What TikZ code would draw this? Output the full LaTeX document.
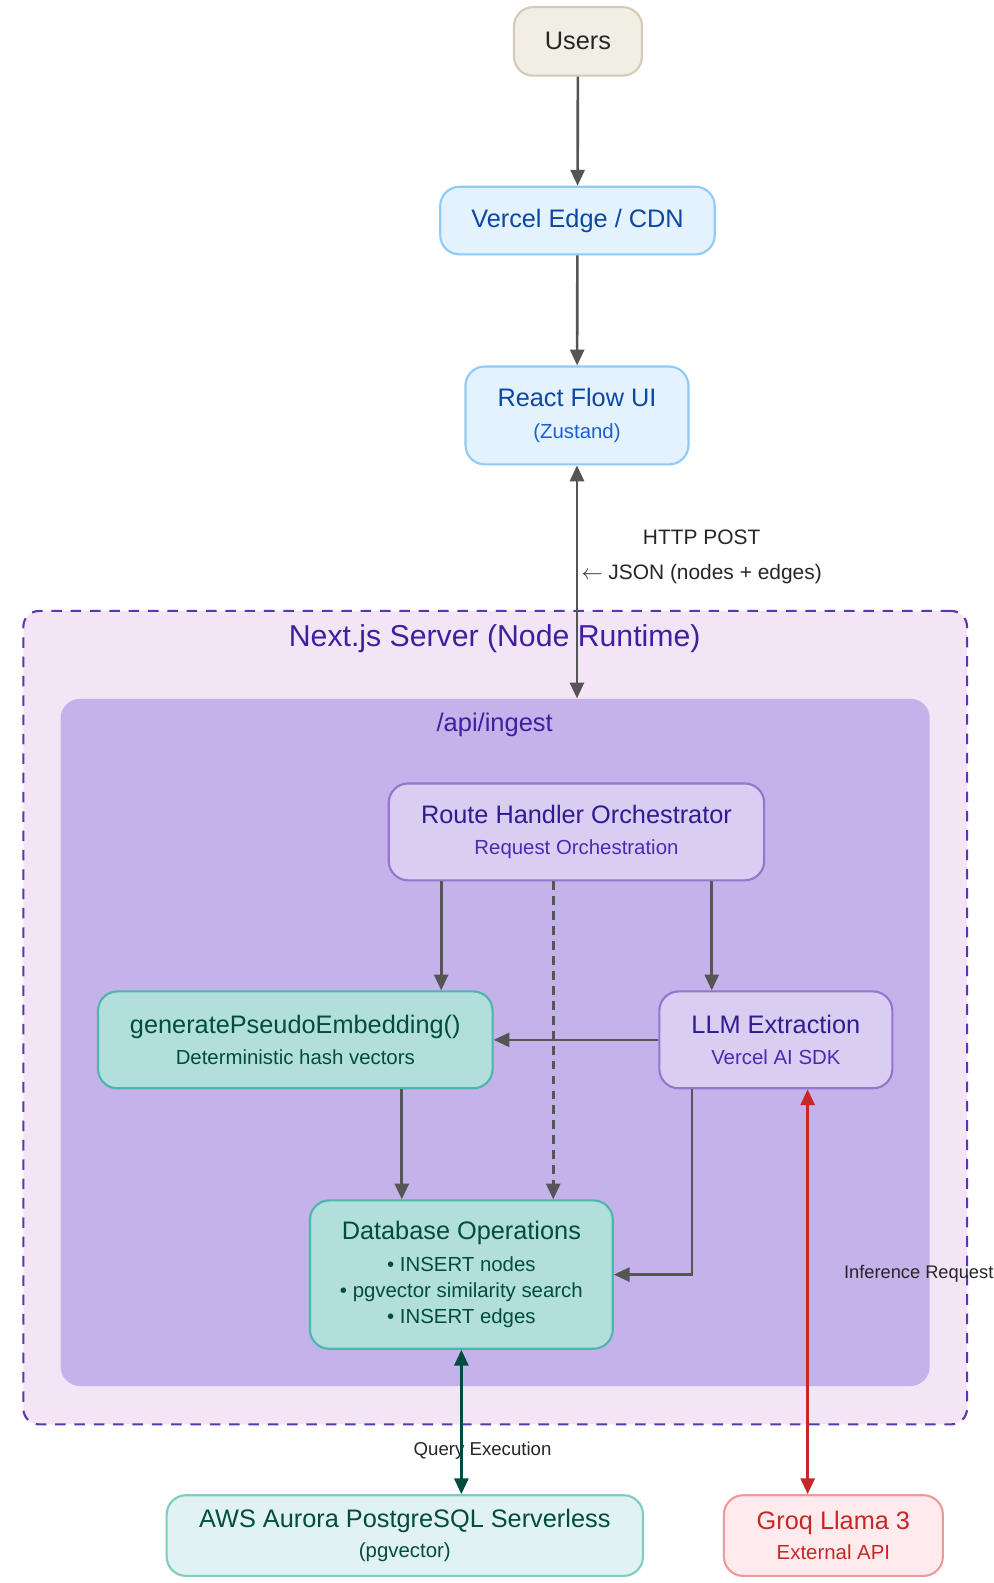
\documentclass[tikz,border=0pt]{standalone}
\usepackage{fontspec}
\setmainfont{Liberation Sans}
\usetikzlibrary{arrows.meta,positioning,calc}
\definecolor{usersfill}{HTML}{F1EEE4}
\definecolor{usersline}{HTML}{D3CBB8}
\definecolor{edgefill}{HTML}{E3F2FD}
\definecolor{edgeline}{HTML}{90CAF9}
\definecolor{edgetext}{HTML}{0D47A1}
\definecolor{edgesub}{HTML}{1E5FD0}
\definecolor{serverfill}{HTML}{F3E5F5}
\definecolor{serverline}{HTML}{5E35B1}
\definecolor{servertext}{HTML}{3F1FA0}
\definecolor{ingestfill}{HTML}{C4B2EB}
\definecolor{routefill}{HTML}{D9CDF2}
\definecolor{routeline}{HTML}{9575CD}
\definecolor{routetext}{HTML}{311B92}
\definecolor{routesub}{HTML}{4A2BB0}
\definecolor{tealfill}{HTML}{B2DFDB}
\definecolor{tealline}{HTML}{4DB6AC}
\definecolor{tealtext}{HTML}{004D40}
\definecolor{awsfill}{HTML}{E0F2F1}
\definecolor{awsline}{HTML}{80CBC4}
\definecolor{groqfill}{HTML}{FFEBEE}
\definecolor{groqline}{HTML}{EF9A9A}
\definecolor{groqtext}{HTML}{C62828}
\definecolor{arrowgray}{HTML}{555555}
\newcommand{\boxtitle}{\fontsize{14.4}{17}\selectfont}
\newcommand{\boxnote}{\fontsize{11.6}{15}\selectfont}
\tikzset{
  basebox/.style={rounded corners=11pt, line width=1.2pt, inner sep=0pt, align=center},
  usersbox/.style={basebox, draw=usersline, fill=usersfill, text=black!85},
  edgebox/.style={basebox, draw=edgeline, fill=edgefill, text=edgetext},
  routebox/.style={basebox, draw=routeline, fill=routefill, text=routetext},
  tealbox/.style={basebox, draw=tealline, fill=tealfill, text=tealtext},
  awsbox/.style={basebox, draw=awsline, fill=awsfill, text=tealtext},
  groqbox/.style={basebox, draw=groqline, fill=groqfill, text=groqtext},
  serverbox/.style={draw=serverline, fill=serverfill, line width=1.2pt, dash pattern=on 6pt off 5pt, rounded corners=9pt, inner sep=0pt},
  ingestbox/.style={fill=ingestfill, rounded corners=11pt, inner sep=0pt},
  grouptitle/.style={text=servertext, inner sep=0pt},
  edgelabel/.style={text=black!85, inner sep=0pt},
  arrow/.style={-{Triangle[length=9pt,width=8pt]}, line width=1.5pt, draw=arrowgray},
  dasharrow/.style={arrow, dash pattern=on 5pt off 3.5pt},
  twoarrow/.style={{Triangle[length=9pt,width=8pt]}-{Triangle[length=9pt,width=8pt]}, line width=1.5pt, draw=arrowgray},
  greenarrow/.style={twoarrow, draw=tealtext, fill=tealtext},
  redarrow/.style={twoarrow, draw=groqtext, fill=groqtext}
}
\begin{document}
\begin{tikzpicture}[x=0.02018cm, y=-0.02018cm]
  \useasboundingbox[fill=white] (0,0) rectangle (984,1568);
  % groups
  \node[serverbox, minimum width=536.9pt, minimum height=462.8pt] (server) at (490.5,1008) {};
  \node[ingestbox, minimum width=494.4pt, minimum height=391pt] (ingest) at (490.5,1032.5) {};
  \node[grouptitle, font=\fontsize{17.2}{20}\selectfont] (servertitle) at (490,633) {Next.js Server (Node Runtime)};
  \node[grouptitle, font=\fontsize{14.5}{17}\selectfont] (ingesttitle) at (490,718) {/api/ingest};
  % boxes
  \node[usersbox, minimum width=72.9pt, minimum height=39pt] (users) at (572.5,41) {\boxtitle Users};
  \node[edgebox, minimum width=156.2pt, minimum height=38.5pt] (edge) at (572,218.5) {\boxtitle Vercel Edge / CDN};
  \node[edgebox, minimum width=126.9pt, minimum height=55.7pt] (react) at (571.5,411.5)
    {{\boxtitle React Flow UI}\\[6pt]{\boxnote\color{edgesub}(Zustand)}};
  \node[routebox, minimum width=213.6pt, minimum height=55.1pt] (route) at (571,824)
    {{\boxtitle Route Handler Orchestrator}\\[6pt]{\boxnote\color{routesub}Request Orchestration}};
  \node[tealbox, minimum width=224.5pt, minimum height=55.1pt] (gen) at (292.5,1030)
    {{\boxtitle generatePseudoEmbedding()}\\[6pt]{\boxnote Deterministic hash vectors}};
  \node[routebox, minimum width=132.6pt, minimum height=55.1pt] (llm) at (768.5,1030)
    {{\boxtitle LLM Extraction}\\[6pt]{\boxnote\color{routesub}Vercel AI SDK}};
  \node[tealbox, font=\boxnote, minimum width=172.3pt, minimum height=84.4pt] (db) at (457,1262.5)
    {{\boxtitle Database Operations}\\[3pt]• INSERT nodes\\• pgvector similarity search\\• INSERT edges};
  \node[awsbox, minimum width=271pt, minimum height=45.9pt] (aws) at (401,1521)
    {{\boxtitle AWS Aurora PostgreSQL Serverless}\\[5pt]{\boxnote (pgvector)}};
  \node[groqbox, minimum width=124.6pt, minimum height=45.9pt] (groq) at (825.5,1521)
    {{\boxtitle Groq Llama 3}\\[5pt]{\boxnote External API}};
  % labels
  \node[edgelabel, font=\fontsize{11.9}{14}\selectfont] (httplabel) at (695,532) {HTTP POST};
  \node[edgelabel, font=\fontsize{11.9}{14}\selectfont] (jsonlabel) at (695,569) {$\leftarrow$ JSON (nodes + edges)};
  \node[edgelabel, font=\fontsize{10.6}{13}\selectfont] (querylabel) at (478,1437) {Query Execution};
  \node[edgelabel, font=\fontsize{10.4}{13}\selectfont] (inferlabel) at (910,1262) {Inference Request};
  % connectors
  \draw[arrow] (users) -- (edge);
  \draw[arrow] (edge) -- (react);
  \draw[twoarrow] (react.south) -- (react.south |- ingest.north);
  \draw[arrow] ($(route.south)+(-134,0)$) coordinate (r1) -- (r1 |- gen.north);
  \draw[arrow] ($(route.south)+(134,0)$) coordinate (r2) -- (r2 |- llm.north);
  \draw[dasharrow] ($(route.south)+(-23,0)$) coordinate (r3) -- (r3 |- db.north);
  \draw[arrow] (llm.west) -- (gen.east);
  \draw[arrow] ($(gen.south)+(105.5,0)$) coordinate (g1) -- (g1 |- db.north);
  \draw[arrow] ($(llm.south)+(-83,0)$) coordinate (l1) |- (db.east);
  \draw[greenarrow] (db.south) -- (db.south |- aws.north);
  \draw[redarrow] ($(groq.north)+(-25.5,0)$) coordinate (q1) -- (q1 |- llm.south);
\end{tikzpicture}
\end{document}
